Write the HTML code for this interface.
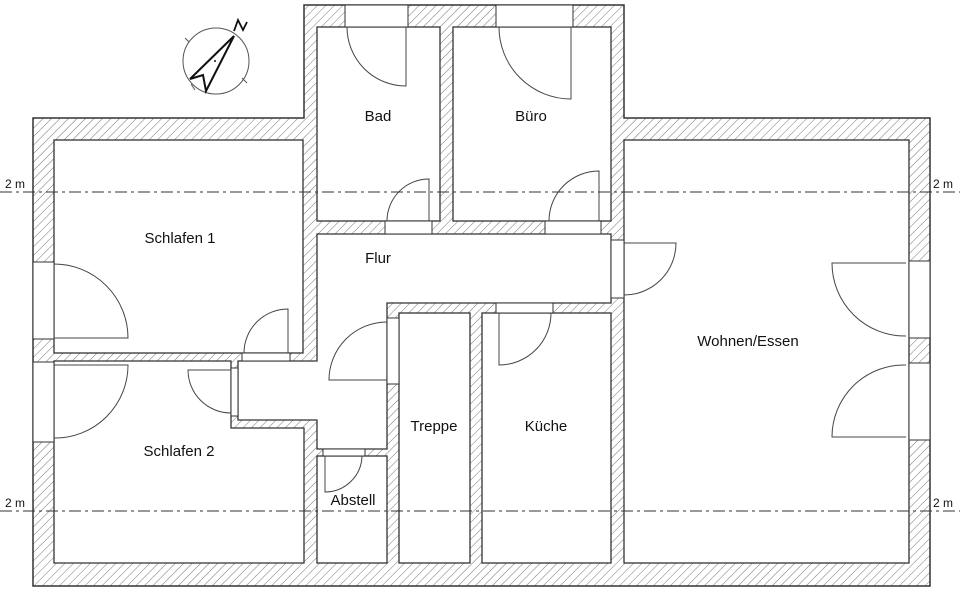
<!DOCTYPE html>
<html><head><meta charset="utf-8"><style>
html,body{margin:0;padding:0;background:#fff}
svg{display:block}
text{font-family:"Liberation Sans",sans-serif;font-size:15px;fill:#111}
</style></head><body>
<svg width="960" height="591" viewBox="0 0 960 591" xmlns="http://www.w3.org/2000/svg">
<defs>
<pattern id="h" width="6" height="6" patternUnits="userSpaceOnUse" patternTransform="rotate(45)">
<rect width="6" height="6" fill="#fff"/><line x1="0" y1="0" x2="0" y2="6" stroke="#777" stroke-width="1"/>
</pattern>
</defs>
<polygon points="33,118 304,118 304,5 624,5 624,118 930,118 930,586 33,586" fill="url(#h)" stroke="#333" stroke-width="1.5"/>
<g fill="#fff" stroke="#333" stroke-width="1.3">
<rect x="54" y="140" width="249" height="213"/>
<polygon points="54,361 231,361 231,428 304,428 304,563 54,563"/>
<rect x="317" y="27" width="123" height="194"/>
<rect x="453" y="27" width="158" height="194"/>
<polygon points="317,234 611,234 611,303 387,303 387,449 317,449 317,420 238,420 238,361 317,361"/>
<rect x="317" y="456" width="70" height="107"/>
<rect x="399" y="313" width="71" height="250"/>
<rect x="482" y="313" width="129" height="250"/>
<rect x="624" y="140" width="285" height="423"/>
</g>
<g fill="#fff" stroke="#333" stroke-width="1">
<rect x="345" y="5" width="63" height="22"/>
<rect x="496" y="5" width="77" height="22"/>
<rect x="33" y="262" width="21" height="77"/>
<rect x="33" y="362" width="21" height="80"/>
<rect x="909" y="261" width="21" height="77"/>
<rect x="909" y="363" width="21" height="77"/>
<rect x="385" y="221" width="47" height="13"/>
<rect x="545" y="221" width="56" height="13"/>
<rect x="611" y="240" width="13" height="58"/>
<rect x="242" y="353" width="48" height="8"/>
<rect x="231" y="368" width="7" height="48"/>
<rect x="387" y="318" width="12" height="66"/>
<rect x="496" y="303" width="57" height="10"/>
<rect x="323" y="449" width="42" height="7"/>
</g>
<g fill="none" stroke="#444" stroke-width="1">
<path d="M406,27 V86 A59,59 0 0 1 347,27"/>
<path d="M571,27 V99 A72,72 0 0 1 499,27"/>
<path d="M429,221 V179 A42,42 0 0 0 387,221"/>
<path d="M599,221 V171 A50,50 0 0 0 549,221"/>
<path d="M624,243 H676 A52,52 0 0 1 624,295"/>
<path d="M906,263 H832 A73,73 0 0 0 906,336"/>
<path d="M906,437 H832 A72,72 0 0 1 906,365"/>
<path d="M54,338 H128 A74,74 0 0 0 54,264"/>
<path d="M54,365 H128 A73,73 0 0 1 54,438"/>
<path d="M288,353 V309 A44,44 0 0 0 244,353"/>
<path d="M231,370 H188 A43,43 0 0 0 231,413"/>
<path d="M387,380 H329 A58,58 0 0 1 387,322"/>
<path d="M499,313 V365 A52,52 0 0 0 551,313"/>
<path d="M325,456 V492 A37,37 0 0 0 362,456"/>
</g>
<g stroke="#333" stroke-width="1" stroke-dasharray="12,4,3,4">
<line x1="0" y1="192" x2="960" y2="192"/>
<line x1="0" y1="511" x2="960" y2="511"/>
</g>
<text x="5" y="188" style="font-size:12px">2 m</text>
<text x="933" y="188" style="font-size:12px">2 m</text>
<text x="5" y="507" style="font-size:12px">2 m</text>
<text x="933" y="507" style="font-size:12px">2 m</text>
<g stroke="#555" stroke-width="1" fill="none">
<circle cx="216" cy="61" r="33"/>
<line x1="185" y1="38" x2="189" y2="42"/>
<line x1="242" y1="78" x2="247" y2="83"/>
<line x1="191" y1="84" x2="195" y2="90"/>
</g>
<polygon points="234,36 190,79 203,75 206,91" fill="none" stroke="#111" stroke-width="2"/>
<circle cx="215" cy="61" r="1" fill="#111"/>
<path d="M234,31 L238,20 L243,30 L247,22" fill="none" stroke="#111" stroke-width="1.8"/>
<text x="378" y="121" text-anchor="middle">Bad</text>
<text x="531" y="121" text-anchor="middle">Büro</text>
<text x="180" y="243" text-anchor="middle">Schlafen 1</text>
<text x="378" y="263" text-anchor="middle">Flur</text>
<text x="748" y="346" text-anchor="middle">Wohnen/Essen</text>
<text x="434" y="431" text-anchor="middle">Treppe</text>
<text x="546" y="431" text-anchor="middle">Küche</text>
<text x="179" y="456" text-anchor="middle">Schlafen 2</text>
<text x="353" y="505" text-anchor="middle">Abstell</text>
</svg>
</body></html>
